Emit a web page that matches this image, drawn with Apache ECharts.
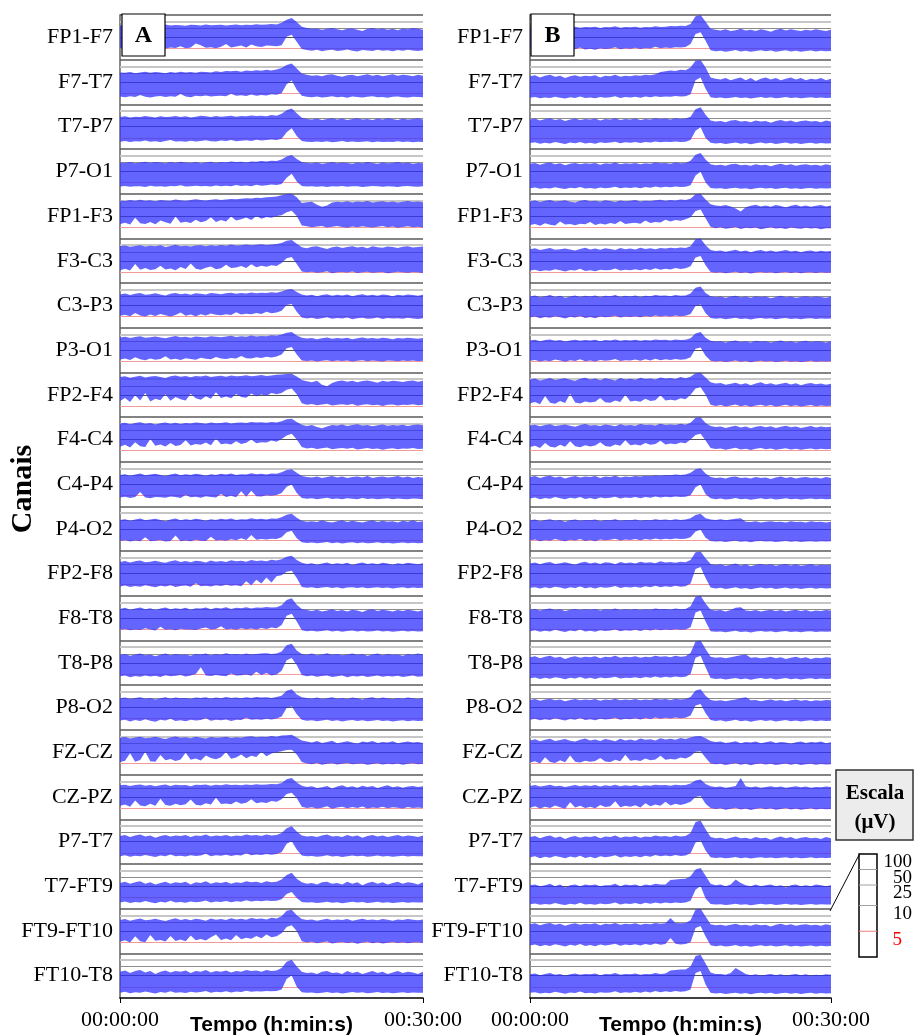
<!DOCTYPE html>
<html><head><meta charset="utf-8">
<script src="https://cdn.jsdelivr.net/npm/echarts@6/dist/echarts.min.js"></script>
<style>html,body{margin:0;padding:0;background:#fff}#chart{width:914px;height:1035px}</style>
</head><body><div id="chart"></div>
<script>
// ---- labels / ticks ----
const channels = ['FP1-F7','F7-T7','T7-P7','P7-O1','FP1-F3','F3-C3','C3-P3','P3-O1','FP2-F4','F4-C4','C4-P4','P4-O2','FP2-F8','F8-T8','T8-P8','P8-O2','FZ-CZ','CZ-PZ','P7-T7','T7-FT9','FT9-FT10','FT10-T8'];
const timeLabels = ['00:00:00','00:30:00'];
const scaleTicks = [100,50,25,10,5];
const panelLetters = ['A','B'];
const minutes = [0,0.5,1,1.5,2,2.5,3,3.5,4,4.5,5,5.5,6,6.5,7,7.5,8,8.5,9,9.5,10,10.5,11,11.5,12,12.5,13,13.5,14,14.5,15,15.5,16,16.5,17,17.5,18,18.5,19,19.5,20,20.5,21,21.5,22,22.5,23,23.5,24,24.5,25,25.5,26,26.5,27,27.5,28,28.5,29,29.5,30];

// ---- panel A : band upper / lower margins (µV) ----
const A_FP1F7_hi = [34,36,33,35,37,34,36,33,35,38,34,36,35,33,37,36,34,38,35,36,37,34,36,38,35,37,36,39,37,38,40,38,45,62,74,48,30,26,24,25,22,24,26,23,21,24,25,22,19,24,26,23,25,22,24,21,25,23,26,24,22];
const A_FP1F7_lo = [5.0,5.4,4.9,5.6,5.2,6.8,5.1,7.4,5.3,5.0,5.5,5.2,6.0,5.1,5.4,7.2,6.5,5.3,5.6,5.1,5.8,7.0,5.4,5.9,6.3,5.5,6.8,6.0,5.7,6.4,6.2,6.0,6.5,10.5,13,8.0,4.8,4.3,4.0,4.4,3.8,4.2,4.5,3.9,4.1,4.6,4.0,3.7,4.3,4.1,3.9,4.4,4.0,4.2,3.8,4.3,4.0,4.5,4.1,3.9,4.2];
const A_F7T7_hi = [27,26,28,25,27,29,26,28,27,25,28,26,29,27,28,26,29,28,27,30,28,31,30,32,29,33,31,34,32,35,33,36,42,58,68,40,24,21,19,20,18,21,22,19,17,20,21,18,20,22,19,21,18,20,22,19,21,20,18,21,19];
const A_F7T7_lo = [3.5,3.2,3.6,3.3,4.2,3.4,3.1,3.5,3.7,3.3,3.6,3.4,4.6,3.5,3.2,3.8,3.6,4.0,3.5,3.7,3.9,3.6,4.8,3.8,4.1,3.7,4.4,3.9,4.2,4.0,4.5,4.3,5.0,9.0,11.6,6.5,3.8,3.4,3.2,3.5,3.1,3.3,3.6,3.2,3.4,3.0,3.5,3.3,3.1,3.4,3.6,3.2,3.3,3.0,3.4,3.5,3.2,3.1,3.4,3.3,3.2];
const A_T7P7_hi = [27,29,26,28,27,30,28,26,29,27,28,30,27,29,26,28,31,29,27,30,28,29,31,28,30,29,32,30,31,29,33,31,38,55,66,40,25,22,21,23,20,22,24,21,23,20,22,24,21,22,20,23,21,24,22,20,23,21,22,24,21];
const A_T7P7_lo = [3.3,3.6,3.2,3.5,3.4,3.8,3.3,3.5,3.2,3.6,4.0,3.4,3.5,3.3,3.7,3.4,3.6,3.9,3.5,3.4,3.8,3.6,4.1,3.5,3.7,3.9,3.6,4.2,3.8,4.0,4.3,4.1,4.6,7.5,9.3,5.8,3.6,3.3,3.1,3.4,3.2,3.5,3.0,3.3,3.6,3.2,3.4,3.1,3.3,3.5,3.0,3.4,3.2,3.3,3.1,3.5,3.2,3.4,3.0,3.3,3.2];
const A_P7O1_hi = [25,24,26,23,25,27,24,26,25,23,26,24,27,25,24,26,23,25,27,24,26,25,28,26,27,25,28,27,29,28,30,29,34,46,54,36,26,24,23,25,22,24,26,23,25,24,22,25,23,26,24,22,25,23,24,26,23,25,22,24,23];
const A_P7O1_lo = [3.2,3.5,3.1,3.4,3.3,3.0,3.6,3.2,3.4,3.1,3.5,3.3,3.8,3.2,3.4,3.6,3.3,3.5,3.2,3.7,3.4,3.6,3.3,3.9,3.5,3.7,3.4,4.0,3.6,3.8,4.1,3.9,4.4,7.2,8.9,5.5,3.5,3.2,3.4,3.1,3.3,3.0,3.4,3.2,3.5,3.1,3.3,3.4,3.0,3.2,3.5,3.3,3.1,3.4,3.2,3.0,3.3,3.5,3.2,3.1,3.3];
const A_FP1F3_hi = [50,47,52,48,54,49,51,46,53,50,48,55,51,49,53,56,52,50,54,57,53,55,58,56,60,63,61,66,64,70,72,76,85,97,100,70,38,42,44,32,26,30,41,44,42,46,41,45,43,47,40,44,46,42,45,41,44,47,43,45,42];
const A_FP1F3_lo = [6.4,7.0,6.2,9.2,6.8,6.5,7.4,6.3,8.0,7.2,6.6,9.8,7.0,7.5,6.9,8.4,7.2,7.8,9.5,7.4,8.2,7.6,9.8,8.0,8.6,9.4,8.2,10.2,8.8,9.6,9.2,10.0,11,15,17.5,10,5.8,5.4,5.0,5.3,5.6,4.9,5.2,5.5,5.1,4.8,5.3,5.0,5.4,5.1,4.9,5.2,5.5,5.0,5.3,4.8,5.1,5.4,5.0,5.2,4.9];
const A_F3C3_hi = [44,48,42,46,50,43,47,45,49,41,46,52,44,47,43,48,50,45,49,46,51,47,53,48,50,54,49,52,55,51,54,56,62,78,84,58,40,36,42,44,38,34,40,43,37,41,45,39,42,36,44,40,38,43,41,37,42,45,39,41,43];
const A_F3C3_lo = [5.8,6.4,5.6,8.6,6.0,6.8,5.9,6.2,7.8,6.1,6.5,5.8,7.2,6.3,8.8,6.4,6.0,6.9,7.4,6.2,6.6,8.2,6.8,7.0,7.6,6.7,8.4,7.1,7.8,7.3,8.0,7.6,9.0,13,14.8,8.5,5.2,4.8,5.1,4.6,4.9,5.3,4.4,4.8,5.0,4.7,5.2,4.5,4.9,5.1,4.6,4.8,5.0,4.4,4.7,5.1,4.9,4.6,5.0,4.8,4.5];
const A_C3P3_hi = [31,34,29,33,36,30,32,35,31,28,33,36,32,34,30,35,33,31,36,34,32,35,37,33,36,34,38,35,37,36,39,37,42,50,54,40,31,28,30,26,29,32,27,30,28,31,26,29,32,28,30,27,31,29,26,30,28,31,29,27,30];
const A_C3P3_lo = [5.4,5.8,5.2,6.6,5.5,5.0,5.9,5.3,6.2,5.6,5.1,5.7,6.8,5.4,5.9,5.2,6.0,5.5,6.4,5.8,5.6,6.1,5.7,7.0,5.9,6.3,6.0,6.6,6.2,7.2,6.5,6.8,7.6,10.5,11.6,7.2,4.6,4.2,4.5,3.9,4.3,4.7,4.0,4.4,4.1,4.6,3.8,4.3,4.5,4.0,4.2,4.6,3.9,4.4,4.1,4.3,4.0,4.5,4.2,3.9,4.3];
const A_P3O1_hi = [37,40,35,39,42,36,38,41,37,34,39,43,38,40,36,41,39,37,42,40,38,41,44,39,42,40,45,41,43,42,46,44,50,60,64,45,36,33,35,31,34,37,32,35,33,36,31,34,37,33,35,32,36,34,31,35,33,36,34,32,35];
const A_P3O1_lo = [5.8,6.2,5.6,6.8,5.9,5.5,6.3,5.7,6.0,7.2,5.8,6.1,5.6,6.4,6.0,5.7,6.6,6.1,5.9,6.9,6.2,6.0,6.5,6.3,7.4,6.4,6.2,6.8,6.5,7.0,6.7,7.1,8.0,12,13.9,8.0,5.4,5.1,5.3,4.9,5.2,5.5,5.0,5.3,5.1,5.4,4.9,5.2,5.5,5.0,5.3,5.1,4.9,5.4,5.2,5.0,5.3,5.1,5.4,5.0,5.2];
const A_FP2F4_hi = [62,68,58,65,72,60,66,70,63,57,67,73,64,69,61,70,66,74,63,68,71,65,73,67,70,75,68,72,76,70,74,78,82,86,87,66,46,40,36,42,28,24,34,40,44,38,42,36,41,44,39,35,42,38,43,40,37,41,44,38,42];
const A_FP2F4_lo = [7.2,8.6,6.8,9.8,7.4,12,7.0,8.2,7.6,10.5,7.3,9.0,8.0,7.5,11,8.4,7.8,9.4,8.2,13,8.6,9.2,8.4,10.8,9.0,8.7,11.5,9.4,10.2,9.6,12,10.5,12,17,19,10.5,6.2,5.6,5.9,5.3,5.7,6.0,5.2,5.6,5.8,5.4,5.9,5.1,5.5,5.8,5.3,5.6,5.0,5.5,5.7,5.2,5.6,5.4,5.8,5.3,5.5];
const A_F4C4_hi = [52,56,48,54,59,50,55,47,53,58,51,56,49,55,52,58,54,50,57,53,55,59,52,56,58,54,60,57,59,56,61,58,66,80,84,60,46,40,44,36,32,38,45,42,47,40,44,48,42,45,39,43,47,41,45,42,46,40,44,47,43];
const A_F4C4_lo = [6.8,7.6,6.4,8.8,7.0,6.6,10.5,7.2,7.8,6.9,8.4,7.1,7.5,9.6,7.3,8.0,7.6,8.6,7.4,11,7.9,8.2,7.7,9.2,8.0,8.5,10,8.3,8.8,8.6,9.5,9.0,10.5,15,18,10,6.6,6.0,6.3,5.7,6.1,6.4,5.6,6.0,6.2,5.8,6.3,5.5,5.9,6.2,5.7,6.0,5.4,5.9,6.1,5.6,6.0,5.8,6.2,5.7,5.9];
const A_C4P4_hi = [26,28,24,27,30,25,27,29,26,23,27,30,25,28,26,29,27,24,28,26,29,27,30,26,28,27,31,28,29,27,30,29,34,43,47,32,23,21,20,22,19,21,23,20,22,19,21,22,20,23,19,21,22,20,21,23,20,22,19,21,20];
const A_C4P4_lo = [4.0,4.4,3.8,4.2,6.5,4.0,3.7,4.3,4.1,3.9,4.5,4.2,3.8,5.2,4.1,4.4,3.9,4.6,4.2,4.0,5.6,4.3,4.8,4.1,6.8,4.4,7.0,4.6,4.5,5.0,4.8,5.2,6.0,8.8,9.8,6.0,3.8,3.5,3.7,3.3,3.6,3.9,3.4,3.6,3.2,3.7,3.5,3.3,3.8,3.4,3.6,3.2,3.5,3.7,3.3,3.6,3.4,3.2,3.6,3.5,3.3];
const A_P4O2_hi = [25,27,23,26,29,24,26,28,25,22,26,29,24,27,25,28,26,23,27,25,28,26,29,25,27,26,30,27,28,26,29,28,33,43,47,31,23,21,22,20,24,21,19,22,24,20,23,21,19,22,24,20,23,21,22,19,23,21,24,20,22];
const A_P4O2_lo = [4.6,4.9,4.3,4.8,4.5,6.2,4.4,4.7,5.0,4.3,4.6,7.0,4.5,4.8,4.4,5.1,4.7,4.6,6.5,4.8,5.0,4.7,5.3,4.9,5.8,5.0,7.2,5.1,5.4,5.2,5.6,5.5,6.2,8.5,9.2,5.8,4.0,3.7,3.9,3.5,3.8,4.1,3.6,3.9,3.4,3.8,4.0,3.6,3.9,3.5,3.7,4.0,3.6,3.8,3.4,3.7,3.9,3.5,3.8,3.6,3.7];
const A_FP2F8_hi = [33,36,31,35,38,32,34,37,33,30,35,39,33,36,32,37,35,31,38,34,36,33,39,35,37,34,40,36,38,35,41,38,44,56,62,40,30,27,29,25,28,31,26,29,27,30,24,28,31,27,29,26,30,28,25,29,27,30,28,26,29];
const A_FP2F8_lo = [4.2,4.6,4.0,4.4,4.1,4.8,4.3,3.9,4.5,4.2,4.7,4.0,4.4,4.6,4.1,5.6,4.3,4.5,4.2,4.8,4.4,5.0,4.5,4.7,4.3,6.5,4.8,7.2,5.5,8.2,6.0,8.8,9.2,12,13.4,8.0,4.0,3.6,3.8,3.4,3.7,4.0,3.5,3.8,3.3,3.7,3.9,3.5,3.8,3.4,3.6,3.9,3.5,3.7,3.3,3.6,3.8,3.4,3.7,3.5,3.6];
const A_F8T8_hi = [26,29,24,27,30,25,28,23,27,30,25,28,26,29,24,28,27,30,25,29,27,31,26,29,28,31,27,30,29,32,30,31,38,66,78,40,26,23,21,24,20,22,25,21,23,20,24,22,19,23,25,21,24,22,20,23,21,24,22,20,23];
const A_F8T8_lo = [4.8,5.2,4.6,5.0,4.7,5.5,4.9,4.5,6.2,4.8,5.1,4.6,5.3,4.9,5.0,4.7,5.4,5.8,4.9,5.2,6.4,5.0,5.3,4.8,5.5,5.1,5.4,5.0,5.6,5.2,5.8,5.5,7.0,13,16,8.5,4.6,4.2,4.4,4.0,4.3,4.6,4.1,4.4,3.9,4.3,4.5,4.1,4.4,4.0,4.2,4.5,4.1,4.3,3.9,4.2,4.4,4.0,4.3,4.1,4.2];
const A_T8P8_hi = [23,25,21,24,26,22,24,20,23,26,22,25,23,24,21,25,24,26,22,25,23,27,24,25,23,26,24,25,26,27,25,26,32,62,71,36,25,23,26,22,24,27,23,25,22,24,26,23,25,21,24,26,22,25,23,24,21,25,23,26,24];
const A_T8P8_lo = [4.0,4.3,3.6,4.1,3.8,4.4,3.9,4.2,3.7,4.5,4.0,4.2,4.6,3.9,4.3,5.0,8.0,4.4,4.1,4.6,4.2,4.0,5.2,4.3,4.5,4.8,4.2,6.0,4.6,5.5,4.4,4.8,6.5,13,16.5,9.0,4.6,4.0,4.3,3.8,4.1,4.4,3.7,4.0,4.3,3.6,4.1,3.9,4.2,3.7,4.0,4.4,3.8,4.1,3.9,4.2,3.7,4.0,4.3,3.8,4.0];
const A_P8O2_hi = [26,28,24,27,29,25,27,23,26,29,25,28,26,27,24,28,27,29,25,28,26,30,27,28,26,29,27,30,28,29,27,30,34,56,66,38,29,27,25,28,24,26,29,25,27,24,28,26,23,27,29,25,28,26,24,27,25,28,26,24,27];
const A_P8O2_lo = [4.2,4.6,3.8,4.4,4.0,4.8,4.1,3.7,4.5,4.2,5.0,4.0,4.3,3.9,4.6,4.2,4.4,5.2,4.1,4.5,4.3,4.7,4.0,4.6,4.4,5.4,4.5,4.8,4.6,5.0,4.7,5.1,6.0,9.8,11.3,7.0,4.5,4.1,4.3,3.9,4.2,4.5,4.0,4.3,3.8,4.2,4.4,4.0,4.3,3.9,4.1,4.4,4.0,4.2,3.8,4.1,4.3,3.9,4.2,4.0,4.1];
const A_FZCZ_hi = [44,48,41,46,50,42,45,49,43,39,46,51,44,47,42,49,45,41,48,44,46,50,43,47,45,49,52,47,50,48,54,50,56,58,60,46,34,30,27,32,26,29,33,25,28,31,27,24,30,28,32,26,29,27,31,25,28,30,27,29,26];
const A_FZCZ_lo = [5.6,6.2,9.5,5.8,6.5,10.5,6.0,5.7,8.8,6.4,7.0,6.1,6.8,9.8,6.6,7.2,6.3,8.5,7.4,6.9,7.8,10.2,7.1,7.6,9.0,7.3,8.4,7.9,10.6,8.2,9.4,10,11,12.5,13,9.0,5.6,5.0,4.6,5.2,4.4,4.8,5.1,4.5,4.9,5.2,4.6,4.8,5.0,4.4,4.7,5.1,4.5,4.9,4.6,5.0,4.4,4.8,5.1,4.6,4.9];
const A_CZPZ_hi = [33,35,31,34,36,32,34,30,33,36,31,35,33,34,30,35,34,36,32,35,33,37,34,35,33,36,34,37,35,36,38,37,42,62,71,44,32,28,30,25,27,31,24,29,33,27,30,26,32,28,31,25,29,33,27,30,26,29,31,28,30];
const A_CZPZ_lo = [6.0,6.6,5.6,8.4,6.2,5.8,6.9,6.1,9.2,6.4,6.0,7.0,6.3,6.7,8.8,6.5,6.2,7.2,6.6,9.6,6.8,7.1,6.7,8.0,7.0,7.4,9.0,7.2,7.6,7.3,8.2,7.8,9.0,13.5,15.5,9.5,5.6,5.0,5.4,4.8,5.2,5.8,4.7,5.3,5.6,4.9,5.5,5.1,5.7,4.8,5.3,5.0,5.6,4.9,5.4,5.2,4.8,5.5,5.1,5.3,5.0];
const A_P7T7_hi = [18,20,16,19,21,17,19,15,18,20,17,19,18,20,16,19,18,21,17,19,18,20,17,19,18,21,19,20,18,21,19,20,24,40,49,28,19,17,18,16,19,21,17,18,16,20,17,19,15,18,20,17,19,16,18,20,17,19,18,16,19];
const A_P7T7_lo = [3.5,3.9,3.2,3.7,3.4,4.0,3.6,3.1,3.8,3.5,4.2,3.4,3.7,3.3,3.9,3.6,3.8,4.6,3.5,3.9,3.7,4.1,3.6,4.0,3.8,4.8,3.9,4.2,4.0,4.4,4.1,4.5,5.2,9.0,10.5,6.5,3.8,3.4,3.6,3.2,3.5,3.9,3.3,3.6,3.1,3.5,3.8,3.4,3.7,3.2,3.5,3.8,3.3,3.6,3.2,3.5,3.7,3.3,3.6,3.4,3.5];
const A_T7FT9_hi = [14,16,13,15,17,13,15,12,14,16,13,15,14,16,12,15,14,17,13,15,14,16,13,15,14,17,15,16,14,17,15,16,20,32,40,22,15,13,14,12,15,16,13,14,12,16,13,15,11,14,16,13,15,12,14,16,13,15,14,12,15];
const A_T7FT9_lo = [2.8,3.2,2.5,3.0,2.7,3.4,2.9,2.4,3.1,2.8,3.5,2.7,3.0,2.6,3.2,2.9,3.1,3.6,2.8,3.2,3.0,3.4,2.9,3.3,3.1,3.7,3.2,3.5,3.3,3.6,3.4,3.5,4.2,6.5,7.4,4.8,3.0,2.7,2.9,2.5,2.8,3.1,2.6,2.9,2.4,2.8,3.1,2.7,3.0,2.5,2.8,3.1,2.6,2.9,2.5,2.8,3.0,2.6,2.9,2.7,2.8];
const A_FT9FT10_hi = [31,34,29,33,36,30,32,35,31,28,33,37,31,34,30,35,33,29,36,32,34,31,37,33,35,32,38,34,36,33,39,36,46,80,90,50,34,31,33,29,32,35,30,33,31,34,29,32,35,31,33,30,34,32,29,33,31,34,32,30,33];
const A_FT9FT10_lo = [5.2,5.8,4.8,7.6,5.4,5.0,8.2,5.6,6.0,5.3,7.8,5.5,6.2,5.4,8.0,5.8,6.4,5.7,7.2,8.4,6.0,6.6,5.9,8.2,6.3,7.0,6.5,7.8,6.8,8.4,7.2,7.6,9.0,15,18,10,5.4,4.8,5.2,4.5,4.9,5.3,4.4,4.8,5.1,4.6,5.0,4.3,4.8,5.2,4.5,4.9,4.4,4.7,5.1,4.6,4.9,4.5,4.8,5.0,4.6];
const A_FT10T8_hi = [15,17,13,16,18,14,16,12,15,17,14,16,15,17,13,16,15,18,14,16,15,17,14,16,15,18,16,17,15,18,16,17,22,42,52,26,15,13,14,12,15,16,13,14,12,16,13,15,12,14,16,13,15,12,14,16,13,15,14,12,15];
const A_FT10T8_lo = [2.4,2.8,2.1,2.6,2.3,2.9,2.5,2.0,2.7,2.4,3.0,2.3,2.6,2.2,2.8,2.5,2.7,3.1,2.4,2.8,2.6,3.0,2.5,2.9,2.7,3.2,2.8,3.0,2.9,3.1,3.0,3.1,3.8,8.5,10.2,5.0,2.6,2.3,2.5,2.1,2.4,2.7,2.2,2.5,2.0,2.4,2.7,2.3,2.6,2.1,2.4,2.7,2.2,2.5,2.1,2.4,2.6,2.2,2.5,2.3,2.4];

// ---- panel B : band upper / lower margins (µV) ----
const B_FP1F7_hi = [28,30,26,29,31,27,29,25,28,30,27,29,28,30,26,29,28,31,27,29,28,30,27,29,28,31,29,30,32,31,33,32,40,88,100,50,24,22,20,23,19,21,24,20,22,19,23,21,18,22,24,20,23,21,19,22,20,23,21,19,22];
const B_FP1F7_lo = [4.8,5.1,4.5,4.9,4.6,5.3,4.8,4.4,5.0,4.7,5.4,4.6,4.9,4.5,5.1,4.8,5.0,5.6,4.7,5.1,4.9,5.3,4.8,5.2,5.0,5.8,5.1,5.4,5.2,5.6,5.4,5.7,7.0,14,17,8.5,4.2,3.8,4.0,3.6,3.9,4.3,3.7,4.0,3.5,3.9,4.2,3.8,4.1,3.6,3.9,4.2,3.7,4.0,3.6,3.9,4.1,3.7,4.0,3.8,3.9];
const B_F7T7_hi = [18,20,16,19,21,17,19,15,18,20,17,19,18,20,16,19,18,21,17,19,18,20,19,21,20,22,28,30,33,31,35,34,45,90,97,45,16,14,13,15,12,14,16,12,15,11,14,16,13,15,12,14,16,13,15,12,14,13,15,12,14];
const B_F7T7_lo = [3.0,3.3,2.7,3.1,2.8,3.4,3.0,2.6,3.2,2.9,3.5,2.8,3.1,2.7,3.3,3.0,3.2,3.6,2.9,3.3,3.1,3.4,3.0,3.5,3.2,3.6,3.3,3.5,3.4,3.7,3.5,3.6,4.5,12,16,7.0,3.2,2.9,3.1,2.7,3.0,3.3,2.8,3.1,2.6,3.0,3.3,2.9,3.2,2.7,3.0,3.3,2.8,3.1,2.7,3.0,3.2,2.8,3.1,2.9,3.0];
const B_T7P7_hi = [21,23,19,22,24,20,22,18,21,23,20,22,21,23,19,22,21,24,20,22,21,23,20,22,21,24,22,23,21,24,22,23,28,60,74,34,19,17,18,16,19,20,17,18,16,19,17,18,15,18,20,17,19,16,18,19,17,18,16,19,17];
const B_T7P7_lo = [2.7,3.0,2.4,2.8,2.5,3.1,2.7,2.3,2.9,2.6,3.2,2.5,2.8,2.4,3.0,2.7,2.9,3.3,2.6,3.0,2.8,3.1,2.7,3.2,2.9,3.4,3.0,3.3,3.1,3.4,3.2,3.3,4.0,8.2,9.8,5.0,2.8,2.5,2.7,2.3,2.6,2.9,2.4,2.7,2.2,2.6,2.9,2.5,2.8,2.3,2.6,2.9,2.4,2.7,2.3,2.6,2.8,2.4,2.7,2.5,2.6];
const B_P7O1_hi = [22,24,20,23,25,21,23,19,22,24,21,23,22,24,20,23,22,25,21,23,22,24,21,23,22,25,23,24,22,25,23,24,30,56,66,34,21,19,20,18,21,22,19,20,18,21,19,20,17,20,22,19,21,18,20,21,19,20,18,21,19];
const B_P7O1_lo = [2.4,2.8,2.2,2.6,2.3,2.9,2.5,2.1,2.7,2.4,3.0,2.3,2.6,2.2,2.8,2.5,2.7,3.1,2.4,2.8,2.6,2.9,2.5,3.0,2.7,3.2,2.8,3.1,2.9,3.2,3.0,3.1,3.8,8.2,9.8,5.0,2.6,2.3,2.5,2.1,2.4,2.7,2.2,2.5,2.0,2.4,2.7,2.3,2.6,2.1,2.4,2.7,2.2,2.5,2.1,2.4,2.6,2.2,2.5,2.3,2.4];
const B_FP1F3_hi = [46,50,43,48,52,45,47,51,44,41,48,53,46,49,44,51,47,43,50,46,48,52,45,49,47,51,54,49,52,50,55,52,60,95,100,55,34,30,28,31,27,22,16,25,29,32,27,30,26,31,28,24,29,32,27,30,26,29,31,27,30];
const B_FP1F3_lo = [6.0,6.4,5.7,6.8,6.1,5.8,7.6,6.2,6.5,5.9,6.6,6.3,7.4,6.0,6.7,6.2,6.9,6.4,7.8,6.5,6.8,7.0,6.6,8.0,6.9,7.4,7.1,8.4,7.6,8.2,7.9,8.6,9.5,17,19.5,9.0,5.2,4.6,5.0,4.3,4.7,5.1,4.2,4.8,4.5,4.9,4.1,4.6,5.0,4.4,4.7,4.2,4.9,4.5,4.3,4.8,4.4,4.7,4.1,4.6,4.5];
const B_F3C3_hi = [33,36,30,34,37,31,33,35,32,29,34,38,32,35,31,36,34,30,37,33,35,32,38,34,36,33,37,35,38,36,39,37,45,92,100,50,30,27,29,25,28,31,26,29,24,28,30,26,29,25,27,30,26,28,24,27,29,25,28,26,27];
const B_F3C3_lo = [5.6,6.0,5.3,5.8,5.5,6.2,5.7,5.2,5.9,5.6,6.4,5.4,5.8,5.3,6.0,5.7,5.9,6.5,5.6,6.0,5.8,6.2,5.7,6.3,5.9,6.6,6.0,6.4,6.1,6.7,6.3,6.6,7.5,14,16.5,8.0,5.0,4.6,4.9,4.4,4.7,5.1,4.5,4.8,4.3,4.7,5.0,4.6,4.9,4.4,4.7,5.0,4.5,4.8,4.4,4.7,4.9,4.5,4.8,4.6,4.7];
const B_C3P3_hi = [25,28,23,26,29,24,27,22,25,28,24,27,25,28,23,27,26,29,24,27,25,28,24,27,26,29,27,28,26,29,27,28,34,62,71,36,26,24,25,22,25,27,23,25,22,26,24,25,21,24,27,23,25,22,24,26,23,25,24,22,25];
const B_C3P3_lo = [4.6,5.0,4.3,4.8,4.5,5.2,4.7,4.2,4.9,4.6,5.3,4.4,4.8,4.3,5.0,4.7,4.9,5.4,4.6,5.0,4.8,5.2,4.7,5.3,4.9,5.5,5.0,5.4,5.1,5.5,5.2,5.4,6.2,9.8,11,6.5,4.4,4.0,4.3,3.8,4.1,4.5,3.9,4.2,3.7,4.1,4.4,4.0,4.3,3.8,4.1,4.4,3.9,4.2,3.8,4.1,4.3,3.9,4.2,4.0,4.1];
const B_P3O1_hi = [27,29,25,28,30,26,28,24,27,29,26,28,27,29,25,28,27,30,26,28,27,29,26,28,27,30,28,29,27,30,28,29,34,56,64,36,26,24,25,22,25,27,23,25,22,26,24,25,22,24,27,23,25,22,24,26,23,25,24,22,25];
const B_P3O1_lo = [5.2,5.6,4.9,5.4,5.0,5.8,5.3,4.8,5.5,5.1,5.9,5.0,5.4,4.9,5.6,5.2,5.5,6.0,5.1,5.5,5.3,5.8,5.2,5.9,5.4,6.1,5.5,5.9,5.6,6.0,5.7,5.9,6.8,11.5,13,7.5,5.2,4.9,5.1,4.7,5.0,5.3,4.8,5.1,4.6,5.0,5.2,4.9,5.1,4.7,4.9,5.2,4.8,5.0,4.7,4.9,5.2,4.8,5.0,4.9,5.0];
const B_FP2F4_hi = [48,53,44,50,56,46,51,55,47,42,52,58,48,53,45,55,50,44,57,49,52,47,58,51,54,49,60,53,56,51,62,55,64,92,97,60,36,32,34,28,31,35,29,33,27,32,36,30,33,28,31,35,29,33,27,31,34,30,32,28,31];
const B_FP2F4_lo = [6.2,6.8,5.8,9.5,6.4,6.0,7.2,6.3,11,6.6,6.1,7.0,6.5,6.9,8.6,6.7,6.4,7.4,6.8,10,7.0,7.3,6.9,8.2,7.2,7.6,9.8,7.4,7.8,7.5,8.4,8.0,10,19,22,10,5.6,5.0,5.4,4.8,5.2,5.7,4.9,5.3,4.7,5.2,5.6,5.0,5.4,4.8,5.1,5.5,4.9,5.3,4.8,5.1,5.4,4.9,5.2,5.0,5.1];
const B_F4C4_hi = [42,46,39,44,48,40,43,47,41,37,44,49,42,45,40,47,43,39,48,42,45,41,49,44,46,42,50,45,47,44,51,46,56,94,100,55,40,36,38,33,37,41,34,38,32,37,40,35,39,33,37,41,35,38,33,36,40,34,38,35,37];
const B_F4C4_lo = [6.6,7.2,6.2,8.4,6.8,6.4,7.6,6.7,9.2,7.0,6.5,7.4,6.9,7.3,8.8,7.1,6.8,7.8,7.2,9.6,7.4,7.7,7.3,8.4,7.6,8.0,9.4,7.8,8.2,7.9,8.6,8.3,10,16,18,9.5,6.2,5.7,6.0,5.4,5.8,6.3,5.5,5.9,5.3,5.8,6.2,5.6,6.0,5.4,5.7,6.1,5.5,5.9,5.4,5.7,6.0,5.5,5.8,5.6,5.7];
const B_C4P4_hi = [21,23,19,22,24,20,22,18,21,23,20,22,21,23,19,22,21,24,20,22,21,23,22,24,23,25,24,26,25,27,26,27,32,46,52,30,21,19,20,18,21,22,19,20,18,21,19,20,17,20,22,19,21,18,20,21,19,20,18,21,19];
const B_C4P4_lo = [3.6,4.0,3.3,3.8,3.5,4.2,3.7,3.2,3.9,3.6,4.3,3.4,3.8,3.3,4.0,3.7,3.9,4.4,3.6,4.0,3.8,4.2,3.7,4.3,3.9,4.5,4.0,4.4,4.1,4.5,4.2,4.4,5.0,8.6,9.8,5.5,3.7,3.3,3.6,3.1,3.4,3.8,3.2,3.5,3.0,3.4,3.7,3.3,3.6,3.1,3.4,3.7,3.2,3.5,3.1,3.4,3.6,3.2,3.5,3.3,3.4];
const B_P4O2_hi = [24,26,22,25,27,23,25,21,24,26,23,25,24,26,22,25,24,27,23,25,24,26,23,25,24,27,25,26,24,27,25,26,30,42,47,30,26,25,27,24,26,28,30,21,20,22,19,21,22,20,21,19,22,20,21,19,22,20,21,19,21];
const B_P4O2_lo = [4.8,5.2,4.5,5.0,4.7,5.4,4.9,4.4,5.1,4.8,5.5,4.6,5.0,4.5,5.2,4.9,5.1,5.6,4.8,5.2,5.0,5.4,4.9,5.5,5.1,5.7,5.2,5.6,5.3,5.7,5.4,5.6,6.2,8.8,9.6,6.0,4.6,4.3,4.5,4.1,4.4,4.7,4.2,4.5,4.0,4.4,4.6,4.3,4.5,4.1,4.3,4.6,4.2,4.4,4.1,4.3,4.5,4.2,4.4,4.3,4.4];
const B_FP2F8_hi = [28,31,26,30,33,27,29,32,28,25,30,34,28,31,27,32,30,26,33,29,31,28,34,30,32,29,35,31,33,30,34,32,40,90,97,48,27,24,26,22,25,28,23,26,21,25,27,24,26,22,25,27,23,26,22,24,27,23,25,24,25];
const B_FP2F8_lo = [3.6,3.9,3.3,3.8,3.4,4.1,3.7,3.2,3.9,3.5,4.2,3.4,3.8,3.3,4.0,3.6,3.9,4.4,3.5,4.0,3.7,4.1,3.6,4.3,3.8,4.5,3.9,4.3,4.0,4.5,4.1,4.3,5.5,16,19.5,8.0,3.7,3.3,3.6,3.1,3.4,3.8,3.2,3.5,3.0,3.4,3.7,3.3,3.6,3.1,3.4,3.7,3.2,3.5,3.1,3.4,3.6,3.2,3.5,3.3,3.4];
const B_F8T8_hi = [24,26,22,25,27,23,25,21,24,26,23,25,24,26,22,25,24,27,23,25,24,26,23,25,24,27,25,26,24,27,25,26,34,92,100,45,24,22,23,20,23,29,31,22,21,23,20,22,24,21,23,20,22,24,21,23,20,22,21,23,22];
const B_F8T8_lo = [4.2,4.6,3.9,4.4,4.1,4.8,4.3,3.8,4.5,4.2,4.9,4.0,4.4,3.9,4.6,4.3,4.5,5.0,4.2,4.6,4.4,4.8,4.3,4.9,4.5,5.1,4.6,5.0,4.7,5.1,4.8,5.0,6.0,18,22,8.5,4.2,3.9,4.1,3.7,4.0,4.4,3.8,4.1,3.6,4.0,4.3,3.9,4.2,3.7,4.0,4.3,3.8,4.1,3.7,4.0,4.2,3.8,4.1,3.9,4.0];
const B_T8P8_hi = [18,20,16,19,21,17,19,15,18,20,17,19,18,20,16,19,18,21,17,19,18,20,17,19,18,21,19,20,18,21,19,20,28,90,100,42,19,17,18,16,18,20,22,24,17,18,16,17,19,16,18,15,17,19,16,18,15,17,16,18,17];
const B_T8P8_lo = [3.1,3.5,2.8,3.3,2.9,3.6,3.2,2.7,3.4,3.0,3.7,2.9,3.3,2.8,3.5,3.1,3.3,3.8,3.0,3.4,3.2,3.6,3.1,3.7,3.3,3.9,3.4,3.8,3.5,3.9,3.6,3.8,5.0,17,21,8.0,3.2,2.8,3.0,2.6,2.9,3.2,2.7,3.0,2.5,2.9,3.2,2.8,3.1,2.6,2.9,3.2,2.7,3.0,2.6,2.9,3.1,2.7,3.0,2.8,2.9];
const B_P8O2_hi = [22,24,20,23,25,21,23,19,22,24,21,23,22,24,20,23,22,25,21,23,22,24,21,23,22,25,23,24,22,25,23,24,30,58,66,34,22,20,21,19,21,23,26,29,21,22,19,21,23,20,22,19,21,23,20,22,19,21,20,22,21];
const B_P8O2_lo = [4.6,5.0,4.3,4.8,4.4,5.2,4.7,4.2,4.9,4.5,5.3,4.4,4.8,4.3,5.0,4.7,4.9,5.4,4.6,5.0,4.8,5.2,4.7,5.3,4.9,5.5,5.0,5.4,5.1,5.5,5.2,5.4,6.4,12.5,14.3,7.5,4.4,4.0,4.3,3.8,4.1,4.5,3.9,4.2,3.7,4.1,4.4,4.0,4.3,3.8,4.1,4.4,3.9,4.2,3.8,4.1,4.3,3.9,4.2,4.0,4.1];
const B_FZCZ_hi = [34,38,31,36,40,32,35,39,33,30,36,41,34,37,32,39,35,31,40,34,37,33,41,36,38,34,42,37,40,36,43,39,46,52,54,42,32,29,30,26,28,31,25,29,27,30,25,28,31,26,29,27,24,28,30,26,29,27,30,25,28];
const B_FZCZ_lo = [5.4,6.0,5.0,7.8,5.6,5.2,6.4,5.5,8.6,5.8,5.4,6.2,5.7,6.1,7.4,5.9,5.6,6.6,6.0,8.9,6.2,6.5,6.1,7.2,6.4,6.8,8.4,6.6,7.0,6.7,7.6,7.2,8.2,10.5,11,7.5,5.0,4.6,4.9,4.3,4.7,5.1,4.4,4.8,4.2,4.7,5.0,4.5,4.9,4.3,4.6,5.0,4.4,4.8,4.3,4.6,4.9,4.4,4.7,4.5,4.6];
const B_CZPZ_hi = [31,34,29,32,35,30,32,28,31,34,30,33,31,34,29,33,31,35,30,33,31,34,30,33,32,35,33,34,32,35,33,34,40,54,60,38,30,28,29,26,28,31,70,30,27,29,26,28,30,27,29,26,28,30,27,29,26,28,27,29,28];
const B_CZPZ_lo = [5.2,5.8,4.8,5.6,5.0,6.2,5.4,4.7,7.6,5.3,6.0,5.1,5.6,4.9,6.4,5.5,5.8,8.1,5.4,6.0,5.6,6.3,5.3,7.2,5.8,6.6,6.0,7.8,6.2,6.9,6.4,7.0,7.8,10,11,7.0,5.0,4.6,4.9,4.3,4.7,5.2,4.4,4.8,4.2,4.7,5.0,4.5,4.9,4.3,4.6,5.0,4.4,4.8,4.3,4.6,4.9,4.4,4.7,4.5,4.6];
const B_P7T7_hi = [16,18,14,17,19,15,17,13,16,18,15,17,16,18,14,17,16,19,15,17,16,18,15,17,16,19,17,18,16,19,17,18,24,76,87,36,16,14,15,13,15,17,14,15,13,16,14,15,12,15,17,14,16,13,15,16,14,15,13,16,14];
const B_P7T7_lo = [3.0,3.4,2.6,3.2,2.8,3.6,3.1,2.5,3.3,2.9,3.7,2.7,3.2,2.6,3.4,3.0,3.3,3.9,2.9,3.4,3.1,3.6,3.0,3.7,3.2,4.0,3.4,3.8,3.5,4.0,3.6,3.8,4.8,9.6,11.3,6.0,3.0,2.7,2.9,2.5,2.8,3.1,2.6,2.9,2.4,2.8,3.0,2.7,2.9,2.5,2.8,3.0,2.6,2.9,2.5,2.7,3.0,2.6,2.8,2.7,2.8];
const B_T7FT9_hi = [11,12,10,11,13,10,12,9.5,11,12,10,12,11,12,10,11,11,13,10,12,11,12,10,12,11,13,12,12,19,20,21,22,28,56,66,30,13,11,12,10,12,20,14,11,10,12,10,11,12,10,11,9.5,11,12,10,11,10,12,11,10,11];
const B_T7FT9_lo = [2.0,2.3,1.7,2.1,1.8,2.5,2.0,1.6,2.2,1.9,2.6,1.8,2.1,1.7,2.3,2.0,2.2,2.7,1.9,2.3,2.1,2.5,2.0,2.6,2.2,2.8,2.3,2.7,2.4,2.8,2.5,2.7,3.5,8.5,10.2,4.5,2.1,1.8,2.0,1.6,1.9,2.2,1.7,2.0,1.5,1.9,2.2,1.8,2.1,1.6,1.9,2.2,1.7,2.0,1.6,1.9,2.1,1.7,2.0,1.8,1.9];
const B_FT9FT10_hi = [20,22,18,21,23,19,21,17,20,22,19,21,20,22,18,21,20,23,19,21,20,22,19,21,20,23,21,22,38,23,22,23,30,92,100,45,20,18,19,17,19,21,18,19,17,20,18,19,16,19,21,18,20,17,19,20,18,19,17,20,18];
const B_FT9FT10_lo = [3.5,3.9,3.2,3.7,3.3,4.1,3.6,3.1,3.8,3.4,4.2,3.3,3.7,3.2,3.9,3.5,3.8,4.3,3.4,3.9,3.6,4.1,3.5,4.2,3.7,4.4,3.8,4.2,6.9,4.3,4.0,4.2,5.0,13.5,16.5,7.5,3.6,3.2,3.5,3.0,3.3,3.7,3.1,3.4,2.9,3.3,3.6,3.2,3.5,3.0,3.3,3.6,3.1,3.4,3.0,3.3,3.5,3.1,3.4,3.2,3.3];
const B_FT10T8_hi = [11.5,12.5,10.5,12,13,11,12,10,11.5,12.5,11,12,11.5,12.5,10.5,12,11.5,13,11,12,11.5,12.5,11,12,11.5,13,12,12.5,17,18,19,19,26,76,87,35,14,12,12,11,13,22,16,12,10.5,11.5,10,11,12,10.5,11.5,10,11,12,10.5,11.5,10,11,10.5,11.5,11];
const B_FT10T8_lo = [2.3,2.6,2.0,2.4,2.1,2.8,2.3,1.9,2.5,2.2,2.9,2.1,2.4,2.0,2.6,2.3,2.5,3.0,2.2,2.6,2.4,2.8,2.3,2.9,2.5,3.1,2.6,3.0,2.7,3.1,2.8,3.0,3.8,13,16,6.0,2.3,2.0,2.2,1.8,2.1,2.4,1.9,2.2,1.7,2.1,2.4,2.0,2.3,1.8,2.1,2.4,1.9,2.2,1.8,2.1,2.3,1.9,2.2,2.0,2.1];

// ---- tables built from the arrays above ----
const panelHi = [
  [A_FP1F7_hi,A_F7T7_hi,A_T7P7_hi,A_P7O1_hi,A_FP1F3_hi,A_F3C3_hi,A_C3P3_hi,A_P3O1_hi,A_FP2F4_hi,A_F4C4_hi,A_C4P4_hi,A_P4O2_hi,A_FP2F8_hi,A_F8T8_hi,A_T8P8_hi,A_P8O2_hi,A_FZCZ_hi,A_CZPZ_hi,A_P7T7_hi,A_T7FT9_hi,A_FT9FT10_hi,A_FT10T8_hi],
  [B_FP1F7_hi,B_F7T7_hi,B_T7P7_hi,B_P7O1_hi,B_FP1F3_hi,B_F3C3_hi,B_C3P3_hi,B_P3O1_hi,B_FP2F4_hi,B_F4C4_hi,B_C4P4_hi,B_P4O2_hi,B_FP2F8_hi,B_F8T8_hi,B_T8P8_hi,B_P8O2_hi,B_FZCZ_hi,B_CZPZ_hi,B_P7T7_hi,B_T7FT9_hi,B_FT9FT10_hi,B_FT10T8_hi]
];
const panelLo = [
  [A_FP1F7_lo,A_F7T7_lo,A_T7P7_lo,A_P7O1_lo,A_FP1F3_lo,A_F3C3_lo,A_C3P3_lo,A_P3O1_lo,A_FP2F4_lo,A_F4C4_lo,A_C4P4_lo,A_P4O2_lo,A_FP2F8_lo,A_F8T8_lo,A_T8P8_lo,A_P8O2_lo,A_FZCZ_lo,A_CZPZ_lo,A_P7T7_lo,A_T7FT9_lo,A_FT9FT10_lo,A_FT10T8_lo],
  [B_FP1F7_lo,B_F7T7_lo,B_T7P7_lo,B_P7O1_lo,B_FP1F3_lo,B_F3C3_lo,B_C3P3_lo,B_P3O1_lo,B_FP2F4_lo,B_F4C4_lo,B_C4P4_lo,B_P4O2_lo,B_FP2F8_lo,B_F8T8_lo,B_T8P8_lo,B_P8O2_lo,B_FZCZ_lo,B_CZPZ_lo,B_P7T7_lo,B_T7FT9_lo,B_FT9FT10_lo,B_FT10T8_lo]
];

// semilog aEEG scale: linear 0-10 µV in lower half, log 10-100 µV in upper half
function semi(v){ return v <= 10 ? v / 20 : 0.5 + 0.5 * Math.log10(v / 10); }

const NC = channels.length;
const gridDefs = [{left:120, top:15, width:303, height:983}, {left:530, top:15, width:301, height:983}];
const lineStyleFor = {
  100:{color:'#5a5a5a', width:1.5, type:'solid'},
  50:{color:'#c6c6c6', width:2, type:'solid'},
  25:{color:'#8c8c8c', width:1, type:'solid'},
  10:{color:'#555555', width:1, type:'solid'},
  5:{color:'#f29a9a', width:1.2, type:'solid'}
};

const xAxes = [], yAxes = [], series = [];
gridDefs.forEach((g, k) => {
  xAxes.push({
    gridIndex:k, type:'value', min:0, max:30, interval:30,
    axisLine:{show:true, onZero:false, lineStyle:{color:'#000', width:1.5}},
    axisTick:{show:true, length:5, lineStyle:{color:'#000', width:1}},
    splitLine:{show:false},
    axisLabel:{margin:11, fontFamily:'Liberation Serif', fontSize:22, color:'#000',
      formatter: v => v === 0 ? timeLabels[0] : (v === 30 ? timeLabels[1] : '')},
    name:'Tempo (h:min:s)', nameLocation:'middle', nameGap:17, nameMoveOverlap:false,
    nameTextStyle:{fontFamily:'Liberation Sans', fontWeight:'bold', fontSize:21, color:'#000'}
  });
  yAxes.push({gridIndex:k, type:'value', min:0, max:NC, show:false});
  yAxes.push({
    gridIndex:k, type:'category', data:channels, inverse:true, position:'left',
    axisLine:{show:true, lineStyle:{color:'#8a8a8a', width:2}},
    axisTick:{show:false}, splitLine:{show:false},
    axisLabel:{interval:0, margin:7, fontFamily:'Liberation Serif', fontSize:22, color:'#000'}
  });
  // channel reference lines (100, 50, 25, 10, 5 µV) for every channel
  const mlData = [];
  channels.forEach((name, c) => {
    const base = NC - 1 - c;
    scaleTicks.forEach(v => mlData.push({yAxis: base + semi(v), lineStyle: lineStyleFor[v]}));
  });
  series.push({
    type:'line', xAxisIndex:k, yAxisIndex:2*k, data:[[0,0]], symbol:'none',
    lineStyle:{opacity:0, width:0}, silent:true, z:1,
    markLine:{z:1, silent:true, symbol:['none','none'], label:{show:false}, animation:false,
      emphasis:{disabled:true}, data: mlData}
  });
  // channel bands: polygon between lower and upper margin, placed through the axes
  series.push({
    type:'custom', xAxisIndex:k, yAxisIndex:2*k, z:10, silent:true,
    data: channels.map((name, c) => [0, NC - 1 - c]),
    renderItem: (params, api) => {
      const c = params.dataIndex;
      const base = NC - 1 - c;
      const lo = panelLo[k][c], hi = panelHi[k][c];
      const pts = [];
      for (let i = 0; i < minutes.length; i++) pts.push(api.coord([minutes[i], base + semi(hi[i])]));
      for (let i = minutes.length - 1; i >= 0; i--) pts.push(api.coord([minutes[i], base + semi(lo[i])]));
      return {type:'polygon', shape:{points:pts}, style:{fill:'#3030ff', opacity:0.75}};
    }
  });
});

// ---- annotations ----
const graphics = [];
panelLetters.forEach((L, k) => {
  const x0 = k === 0 ? 122 : 531;
  graphics.push({type:'rect', z:100, shape:{x:x0, y:14, width:43, height:42},
    style:{fill:'#fff', stroke:'#000', lineWidth:1.2}});
  graphics.push({type:'text', z:101, x:x0 + 21.5, y:36,
    style:{text:L, font:'bold 24px "Liberation Serif"', fill:'#000', align:'center', verticalAlign:'middle'}});
});
graphics.push({type:'text', z:101, x:23, y:489, rotation:Math.PI/2,
  style:{text:'Canais', font:'bold 30px "Liberation Serif"', fill:'#000', align:'center', verticalAlign:'middle'}});
// Escala legend box
graphics.push({type:'rect', z:100, shape:{x:836, y:770, width:77, height:70},
  style:{fill:'#ececec', stroke:'#333', lineWidth:1.5}});
graphics.push({type:'text', z:101, x:875, y:794,
  style:{text:'Escala', font:'bold 21px "Liberation Serif"', fill:'#000', align:'center', verticalAlign:'middle'}});
graphics.push({type:'text', z:101, x:875, y:823,
  style:{text:'(\u03bcV)', font:'bold 21px "Liberation Serif"', fill:'#000', align:'center', verticalAlign:'middle'}});
// zoomed scale
const sTop = 854, sH = 103, sX = 859, sW = 18;
graphics.push({type:'rect', z:100, shape:{x:sX, y:sTop, width:sW, height:sH},
  style:{fill:'#fff', stroke:'#000', lineWidth:1.5}});
scaleTicks.forEach(v => {
  const y = sTop + sH - semi(v) * sH;
  if (v !== 100) {
    graphics.push({type:'line', z:101, shape:{x1:sX, y1:y, x2:sX + sW, y2:y},
      style:{stroke: v === 5 ? '#f08080' : '#a0a0a0', lineWidth:1}});
  }
  graphics.push({type:'text', z:101, x: v === 5 ? 902 : 912, y: y - 1,
    style:{text:String(v), font:'19px "Liberation Serif"', fill: v === 5 ? '#ff0000' : '#000',
      align:'right', verticalAlign:'top'}});
});
graphics.push({type:'line', z:101, shape:{x1:sX, y1:sTop + 1, x2:830, y2:911},
  style:{stroke:'#000', lineWidth:1}});

const chart = echarts.init(document.getElementById('chart'), null, {renderer:'canvas'});
chart.setOption({
  animation:false,
  backgroundColor:'#fff',
  grid: gridDefs.map(g => Object.assign({containLabel:false, outerBoundsMode:'none'}, g)),
  xAxis: xAxes,
  yAxis: yAxes,
  series: series,
  graphic: graphics
});
</script>
</body></html>
